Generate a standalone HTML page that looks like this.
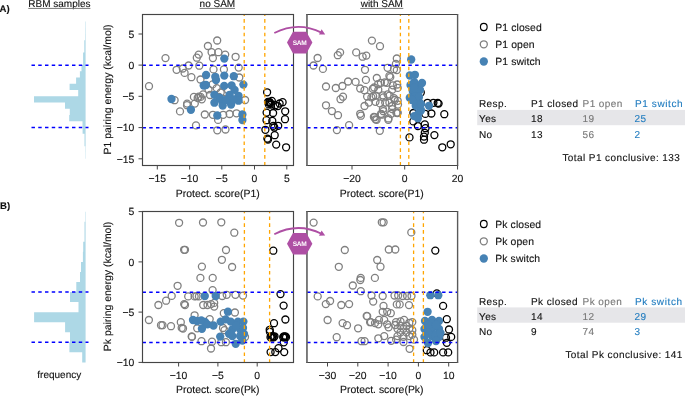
<!DOCTYPE html>
<html><head><meta charset="utf-8"><style>
html,body{margin:0;padding:0;background:#fff;}
body{width:685px;height:406px;overflow:hidden;font-family:"Liberation Sans", sans-serif;}
svg{display:block;will-change:transform;}
svg{color:#111;}
text{text-rendering:geometricPrecision;fill:currentColor;stroke:currentColor;stroke-width:0.12px;}
</style></head><body>
<svg width="685" height="406" viewBox="0 0 685 406" font-family='"Liberation Sans", sans-serif' font-size="10" fill="#111"><text x="-0.5" y="11.6" font-size="9.6" font-weight="700" text-rendering="geometricPrecision">A)</text><text x="0" y="208.6" font-size="9.6" font-weight="700">B)</text><text x="59.4" y="6.8" text-anchor="middle">RBM samples</text><line x1="28.3" y1="8.4" x2="90.4" y2="8.4" stroke="#777" stroke-width="1"/><text x="217.4" y="6.8" text-anchor="middle">no SAM</text><line x1="199.6" y1="8.4" x2="235" y2="8.4" stroke="#777" stroke-width="1"/><text x="381.8" y="6.8" text-anchor="middle">with SAM</text><line x1="360.3" y1="8.4" x2="403.3" y2="8.4" stroke="#777" stroke-width="1"/><text x="59.3" text-anchor="middle" y="377.9">frequency</text><path d="M85.6,21.42 L85.2,21.42 L85.2,27.66 L85.15,27.66 L85.15,33.9 L85.1,33.9 L85.1,40.14 L84.3,40.14 L84.3,46.38 L84.3,46.38 L84.3,52.62 L83.1,52.62 L83.1,58.86 L83.1,58.86 L83.1,65.1 L81.5,65.1 L81.5,71.34 L79.9,71.34 L79.9,77.58 L76.1,77.58 L76.1,83.82 L69.6,83.82 L69.6,90.06 L78.2,90.06 L78.2,96.3 L34,96.3 L34,102.54 L65,102.54 L65,108.78 L69.8,108.78 L69.8,115.02 L69.2,115.02 L69.2,121.26 L82.5,121.26 L82.5,127.5 L82.6,127.5 L82.6,133.74 L84.5,133.74 L84.5,139.98 L84.5,139.98 L84.5,146.22 L85.25,146.22 L85.25,152.46 L85.3,152.46 L85.3,158.7 L85.6,158.7 Z" fill="#add8e6"/><path d="M85.6,211.65 L85.2,211.65 L85.2,221.7 L84.5,221.7 L84.5,231.75 L84.5,231.75 L84.5,241.8 L83.2,241.8 L83.2,251.85 L82.9,251.85 L82.9,261.9 L81.0,261.9 L81.0,271.95 L80.0,271.95 L80.0,282.0 L76.3,282.0 L76.3,292.05 L70,292.05 L70,302.1 L78.5,302.1 L78.5,312.15 L34.1,312.15 L34.1,322.2 L65.1,322.2 L65.1,332.25 L70,332.25 L70,342.3 L69.4,342.3 L69.4,352.35 L82.2,352.35 L82.2,362.4 L85.6,362.4 Z" fill="#add8e6"/><line x1="31.5" y1="65.2" x2="88.5" y2="65.2" stroke="#0000ff" stroke-width="1.5" stroke-dasharray="3.45 3.3" stroke-dashoffset="0"/><line x1="31.5" y1="127.6" x2="88.5" y2="127.6" stroke="#0000ff" stroke-width="1.5" stroke-dasharray="3.45 3.3" stroke-dashoffset="0"/><line x1="31.5" y1="292.1" x2="88.5" y2="292.1" stroke="#0000ff" stroke-width="1.5" stroke-dasharray="3.45 3.3" stroke-dashoffset="0"/><line x1="31.5" y1="342.3" x2="88.5" y2="342.3" stroke="#0000ff" stroke-width="1.5" stroke-dasharray="3.45 3.3" stroke-dashoffset="0"/><g fill="none" stroke="#000" stroke-width="1.3"><circle cx="267.1" cy="92.3" r="3.5"/><circle cx="269.2" cy="101.8" r="3.5"/><circle cx="270.5" cy="103.1" r="3.5"/><circle cx="268.8" cy="104.4" r="3.5"/><circle cx="271.8" cy="100.9" r="3.5"/><circle cx="279.6" cy="103.5" r="3.5"/><circle cx="282.6" cy="102.2" r="3.5"/><circle cx="277.8" cy="106.1" r="3.5"/><circle cx="275.2" cy="105.2" r="3.5"/><circle cx="273.1" cy="113" r="3.5"/><circle cx="266.6" cy="112.6" r="3.5"/><circle cx="285.2" cy="111.3" r="3.5"/><circle cx="285" cy="119.2" r="3.5"/><circle cx="266.5" cy="120.2" r="3.5"/><circle cx="272.3" cy="120.9" r="3.5"/><circle cx="273.3" cy="125.8" r="3.5"/><circle cx="278.2" cy="125.8" r="3.5"/><circle cx="265.4" cy="129.8" r="3.5"/><circle cx="274.7" cy="135.2" r="3.5"/><circle cx="267.4" cy="138.6" r="3.5"/><circle cx="276.2" cy="144.6" r="3.5"/><circle cx="286.1" cy="147.3" r="3.5"/><circle cx="269.5" cy="102.5" r="3.5"/><circle cx="271" cy="104.5" r="3.5"/><circle cx="268" cy="102" r="3.5"/><circle cx="274.3" cy="127.5" r="3.5"/><circle cx="268" cy="139.5" r="3.5"/></g><g fill="none" stroke="#808080" stroke-width="1.3"><circle cx="217.2" cy="40.5" r="3.5"/><circle cx="207.9" cy="46" r="3.5"/><circle cx="211.6" cy="52.2" r="3.5"/><circle cx="218.4" cy="52.2" r="3.5"/><circle cx="212.9" cy="58.1" r="3.5"/><circle cx="225.2" cy="54.6" r="3.5"/><circle cx="235.6" cy="56.8" r="3.5"/><circle cx="198.7" cy="54.6" r="3.5"/><circle cx="196.8" cy="57.7" r="3.5"/><circle cx="199.3" cy="65.7" r="3.5"/><circle cx="213.5" cy="69.4" r="3.5"/><circle cx="223.9" cy="69.4" r="3.5"/><circle cx="238.7" cy="67.6" r="3.5"/><circle cx="200.5" cy="79.5" r="3.5"/><circle cx="239.3" cy="77.5" r="3.5"/><circle cx="165.5" cy="58.1" r="3.5"/><circle cx="176.6" cy="69.8" r="3.5"/><circle cx="182.8" cy="68.5" r="3.5"/><circle cx="184.6" cy="72.9" r="3.5"/><circle cx="188.6" cy="65.5" r="3.5"/><circle cx="191.4" cy="77.2" r="3.5"/><circle cx="193.9" cy="96.9" r="3.5"/><circle cx="200.6" cy="96.9" r="3.5"/><circle cx="203.1" cy="94.4" r="3.5"/><circle cx="174.6" cy="100.2" r="3.5"/><circle cx="187.1" cy="103.6" r="3.5"/><circle cx="149" cy="86.2" r="3.5"/><circle cx="180" cy="111.4" r="3.5"/><circle cx="187" cy="105.2" r="3.5"/><circle cx="194.8" cy="103.6" r="3.5"/><circle cx="198.7" cy="96.6" r="3.5"/><circle cx="201.8" cy="99.3" r="3.5"/><circle cx="196" cy="125.4" r="3.5"/><circle cx="197.7" cy="98" r="3.5"/><circle cx="204.8" cy="114.5" r="3.5"/><circle cx="212.9" cy="114.8" r="3.5"/><circle cx="218.1" cy="119.9" r="3.5"/><circle cx="223.2" cy="114.8" r="3.5"/><circle cx="229.6" cy="114" r="3.5"/><circle cx="236.5" cy="113.3" r="3.5"/><circle cx="217.3" cy="130.3" r="3.5"/><circle cx="225.5" cy="129.5" r="3.5"/><circle cx="245.1" cy="100" r="3.5"/><circle cx="212.6" cy="84.4" r="3.5"/><circle cx="216.7" cy="88.1" r="3.5"/><circle cx="220.7" cy="92.5" r="3.5"/><circle cx="208.5" cy="89.4" r="3.5"/><circle cx="219" cy="97" r="3.5"/><circle cx="210" cy="95" r="3.5"/><circle cx="224" cy="99" r="3.5"/><circle cx="228" cy="90" r="3.5"/></g><g fill="#4682b4"><circle cx="224.3" cy="58.6" r="4.15"/><circle cx="206.1" cy="75" r="4.15"/><circle cx="215.3" cy="76.8" r="4.15"/><circle cx="224.3" cy="75.6" r="4.15"/><circle cx="233.8" cy="76.2" r="4.15"/><circle cx="203.7" cy="85.5" r="4.15"/><circle cx="171.5" cy="99" r="4.15"/><circle cx="190.9" cy="109.8" r="4.15"/><circle cx="243.4" cy="84.6" r="4.15"/><circle cx="224.2" cy="85.9" r="4.15"/><circle cx="231.6" cy="85.4" r="4.15"/><circle cx="234.6" cy="89.9" r="4.15"/><circle cx="214.4" cy="94.8" r="4.15"/><circle cx="229.6" cy="94.8" r="4.15"/><circle cx="238.5" cy="95.8" r="4.15"/><circle cx="214.4" cy="102.7" r="4.15"/><circle cx="222.2" cy="101.2" r="4.15"/><circle cx="222.7" cy="105.6" r="4.15"/><circle cx="231.1" cy="104.6" r="4.15"/><circle cx="238.5" cy="100.7" r="4.15"/><circle cx="217.3" cy="115.5" r="4.15"/><circle cx="242.4" cy="114.5" r="4.15"/><circle cx="220" cy="98" r="4.15"/><circle cx="226" cy="100" r="4.15"/><circle cx="233.5" cy="99.5" r="4.15"/><circle cx="242.4" cy="120" r="4.15"/><circle cx="216" cy="80" r="4.15"/><circle cx="206" cy="85" r="4.15"/></g><line x1="142.5" y1="65.3" x2="293.0" y2="65.3" stroke="#0000ff" stroke-width="1.5" stroke-dasharray="3.45 3.3" stroke-dashoffset="0"/><line x1="142.5" y1="127.8" x2="293.0" y2="127.8" stroke="#0000ff" stroke-width="1.5" stroke-dasharray="3.45 3.3" stroke-dashoffset="0"/><line x1="244.2" y1="14.5" x2="244.2" y2="165.0" stroke="#ffa500" stroke-width="1.3" stroke-dasharray="3.6 3.2" stroke-dashoffset="2.2"/><line x1="264.8" y1="14.5" x2="264.8" y2="165.0" stroke="#ffa500" stroke-width="1.3" stroke-dasharray="3.6 3.2" stroke-dashoffset="2.2"/><rect x="142.5" y="14.5" width="151.0" height="151.0" fill="none" stroke="#454545" stroke-width="1.15"/><g fill="none" stroke="#000" stroke-width="1.3"><circle cx="420.8" cy="92.5" r="3.5"/><circle cx="427.5" cy="102.8" r="3.5"/><circle cx="433.4" cy="102.8" r="3.5"/><circle cx="438.6" cy="103.6" r="3.5"/><circle cx="431.4" cy="113.5" r="3.5"/><circle cx="444.3" cy="114.2" r="3.5"/><circle cx="413.4" cy="113" r="3.5"/><circle cx="425.3" cy="113.9" r="3.5"/><circle cx="413.3" cy="121.4" r="3.5"/><circle cx="417.9" cy="126" r="3.5"/><circle cx="424.8" cy="124.4" r="3.5"/><circle cx="425.5" cy="128.2" r="3.5"/><circle cx="424.8" cy="132.8" r="3.5"/><circle cx="424" cy="136.6" r="3.5"/><circle cx="424" cy="139.7" r="3.5"/><circle cx="434.4" cy="135.1" r="3.5"/><circle cx="442.3" cy="147.3" r="3.5"/><circle cx="450.7" cy="144.3" r="3.5"/><circle cx="409.5" cy="137.4" r="3.5"/><circle cx="437.7" cy="103" r="3.5"/></g><g fill="none" stroke="#808080" stroke-width="1.3"><circle cx="317.6" cy="58" r="3.5"/><circle cx="313.5" cy="65.5" r="3.5"/><circle cx="322.9" cy="68.9" r="3.5"/><circle cx="337.8" cy="55.2" r="3.5"/><circle cx="340.1" cy="52.4" r="3.5"/><circle cx="356.2" cy="52.4" r="3.5"/><circle cx="362.6" cy="56.7" r="3.5"/><circle cx="366.3" cy="55.6" r="3.5"/><circle cx="371.9" cy="40.6" r="3.5"/><circle cx="380" cy="46.2" r="3.5"/><circle cx="365" cy="69.8" r="3.5"/><circle cx="365.9" cy="79.9" r="3.5"/><circle cx="376.8" cy="78" r="3.5"/><circle cx="326" cy="86.5" r="3.5"/><circle cx="335.8" cy="88" r="3.5"/><circle cx="342.4" cy="86" r="3.5"/><circle cx="348.1" cy="81.5" r="3.5"/><circle cx="355.6" cy="81.9" r="3.5"/><circle cx="360.2" cy="88.5" r="3.5"/><circle cx="364.5" cy="90.2" r="3.5"/><circle cx="374.2" cy="87.5" r="3.5"/><circle cx="378.1" cy="84.2" r="3.5"/><circle cx="380.9" cy="82.8" r="3.5"/><circle cx="386.9" cy="82.8" r="3.5"/><circle cx="392.9" cy="85.3" r="3.5"/><circle cx="397.2" cy="84.5" r="3.5"/><circle cx="390.3" cy="77.1" r="3.5"/><circle cx="396.8" cy="58.5" r="3.5"/><circle cx="395.9" cy="63.9" r="3.5"/><circle cx="387.6" cy="67.8" r="3.5"/><circle cx="394" cy="69.2" r="3.5"/><circle cx="396.8" cy="70.1" r="3.5"/><circle cx="389.4" cy="75.9" r="3.5"/><circle cx="384.8" cy="82.3" r="3.5"/><circle cx="372.8" cy="88.8" r="3.5"/><circle cx="378.3" cy="89.7" r="3.5"/><circle cx="392.2" cy="89.7" r="3.5"/><circle cx="397.7" cy="87.9" r="3.5"/><circle cx="340.5" cy="99.2" r="3.5"/><circle cx="343" cy="96.7" r="3.5"/><circle cx="326" cy="105.3" r="3.5"/><circle cx="331.9" cy="111.1" r="3.5"/><circle cx="338" cy="115.2" r="3.5"/><circle cx="349.1" cy="125.2" r="3.5"/><circle cx="336.9" cy="130.1" r="3.5"/><circle cx="379.8" cy="130.8" r="3.5"/><circle cx="376.6" cy="119.8" r="3.5"/><circle cx="388.3" cy="119.8" r="3.5"/><circle cx="360.9" cy="115.7" r="3.5"/><circle cx="373.9" cy="117" r="3.5"/><circle cx="360.2" cy="113.8" r="3.5"/><circle cx="367.1" cy="96.6" r="3.5"/><circle cx="371.4" cy="97.4" r="3.5"/><circle cx="375.7" cy="95.7" r="3.5"/><circle cx="368.8" cy="102.6" r="3.5"/><circle cx="364.5" cy="106" r="3.5"/><circle cx="383.4" cy="97.4" r="3.5"/><circle cx="389.5" cy="95.7" r="3.5"/><circle cx="394.7" cy="100" r="3.5"/><circle cx="380" cy="103.4" r="3.5"/><circle cx="385.2" cy="102.6" r="3.5"/><circle cx="392.1" cy="106" r="3.5"/><circle cx="374.8" cy="117.2" r="3.5"/><circle cx="381.7" cy="114.7" r="3.5"/><circle cx="383.4" cy="111.2" r="3.5"/><circle cx="391.2" cy="113.8" r="3.5"/><circle cx="396.4" cy="112.9" r="3.5"/><circle cx="382.9" cy="95.3" r="3.5"/><circle cx="387.6" cy="94.4" r="3.5"/><circle cx="394" cy="98.1" r="3.5"/><circle cx="397.7" cy="100.8" r="3.5"/><circle cx="375.5" cy="101.8" r="3.5"/><circle cx="389.4" cy="102.7" r="3.5"/><circle cx="382.9" cy="109.1" r="3.5"/><circle cx="392.2" cy="109.1" r="3.5"/><circle cx="397.7" cy="112.8" r="3.5"/><circle cx="381.1" cy="113.8" r="3.5"/><circle cx="388.5" cy="118.4" r="3.5"/><circle cx="375.5" cy="119.3" r="3.5"/><circle cx="373.2" cy="96.4" r="3.5"/><circle cx="397.3" cy="113" r="3.5"/><circle cx="398" cy="104.6" r="3.5"/></g><g fill="#4682b4"><circle cx="411.2" cy="59.5" r="4.15"/><circle cx="409.8" cy="75.5" r="4.15"/><circle cx="414.9" cy="74.8" r="4.15"/><circle cx="410.5" cy="85.1" r="4.15"/><circle cx="418.6" cy="85.8" r="4.15"/><circle cx="414.2" cy="82.2" r="4.15"/><circle cx="412.7" cy="91" r="4.15"/><circle cx="409.8" cy="97.7" r="4.15"/><circle cx="415.7" cy="95.5" r="4.15"/><circle cx="418.6" cy="101.4" r="4.15"/><circle cx="429" cy="105.8" r="4.15"/><circle cx="415.7" cy="105.8" r="4.15"/><circle cx="418.6" cy="113.2" r="4.15"/><circle cx="414.2" cy="116.1" r="4.15"/><circle cx="417.9" cy="118.3" r="4.15"/><circle cx="421" cy="110.2" r="4.15"/><circle cx="416" cy="94.3" r="4.15"/><circle cx="420" cy="90" r="4.15"/><circle cx="419" cy="97" r="4.15"/><circle cx="412" cy="100" r="4.15"/><circle cx="421" cy="104" r="4.15"/><circle cx="422" cy="83" r="4.15"/><circle cx="414" cy="88" r="4.15"/></g><line x1="307.1" y1="65.3" x2="457.0" y2="65.3" stroke="#0000ff" stroke-width="1.5" stroke-dasharray="3.45 3.3" stroke-dashoffset="0"/><line x1="307.1" y1="127.8" x2="457.0" y2="127.8" stroke="#0000ff" stroke-width="1.5" stroke-dasharray="3.45 3.3" stroke-dashoffset="0"/><line x1="400.4" y1="14.5" x2="400.4" y2="165.0" stroke="#ffa500" stroke-width="1.3" stroke-dasharray="3.6 3.2" stroke-dashoffset="2.2"/><line x1="408.8" y1="14.5" x2="408.8" y2="165.0" stroke="#ffa500" stroke-width="1.3" stroke-dasharray="3.6 3.2" stroke-dashoffset="2.2"/><line x1="306.25" y1="14.5" x2="458.1" y2="14.5" stroke="#454545" stroke-width="1.15"/><line x1="306.25" y1="165.5" x2="458.1" y2="165.5" stroke="#454545" stroke-width="1.15"/><line x1="306.95" y1="14.0" x2="306.95" y2="166.0" stroke="#5e5e5e" stroke-width="1.6"/><line x1="457.6" y1="14.0" x2="457.6" y2="166.0" stroke="#5a5a5a" stroke-width="1.4"/><g fill="none" stroke="#000" stroke-width="1.3"><circle cx="273.3" cy="250.7" r="3.5"/><circle cx="280.5" cy="294.1" r="3.5"/><circle cx="283.6" cy="305.6" r="3.5"/><circle cx="285.4" cy="319.5" r="3.5"/><circle cx="274" cy="323.2" r="3.5"/><circle cx="269.7" cy="329.8" r="3.5"/><circle cx="269.9" cy="331.8" r="3.5"/><circle cx="283.8" cy="342.3" r="3.5"/><circle cx="278.5" cy="348.2" r="3.5"/><circle cx="270.6" cy="352.1" r="3.5"/><circle cx="275.3" cy="352.1" r="3.5"/><circle cx="284.2" cy="352.1" r="3.5"/><circle cx="270.5" cy="337.3" r="3.5"/><circle cx="271.3" cy="336.3" r="3.5"/><circle cx="272.1" cy="337.3" r="3.5"/><circle cx="272.9" cy="336.3" r="3.5"/><circle cx="273.7" cy="337.3" r="3.5"/><circle cx="274.5" cy="336.3" r="3.5"/><circle cx="283.2" cy="337.3" r="3.5"/><circle cx="283.9" cy="336.3" r="3.5"/><circle cx="284.6" cy="337.3" r="3.5"/><circle cx="285.3" cy="336.3" r="3.5"/><circle cx="286.0" cy="337.3" r="3.5"/></g><g fill="none" stroke="#808080" stroke-width="1.3"><circle cx="179.1" cy="222.8" r="3.5"/><circle cx="203" cy="222.5" r="3.5"/><circle cx="221.3" cy="222.3" r="3.5"/><circle cx="234.3" cy="232.7" r="3.5"/><circle cx="184.1" cy="249.8" r="3.5"/><circle cx="185" cy="249.8" r="3.5"/><circle cx="226" cy="250" r="3.5"/><circle cx="221.9" cy="259.8" r="3.5"/><circle cx="232.1" cy="267" r="3.5"/><circle cx="201.9" cy="266.6" r="3.5"/><circle cx="200.4" cy="277.9" r="3.5"/><circle cx="212.7" cy="277.9" r="3.5"/><circle cx="177.6" cy="285.8" r="3.5"/><circle cx="212.6" cy="290.2" r="3.5"/><circle cx="226.7" cy="294.8" r="3.5"/><circle cx="235.4" cy="294.8" r="3.5"/><circle cx="243" cy="295.6" r="3.5"/><circle cx="222.3" cy="296" r="3.5"/><circle cx="196.5" cy="296.2" r="3.5"/><circle cx="158.4" cy="305" r="3.5"/><circle cx="166.1" cy="300.7" r="3.5"/><circle cx="171.7" cy="295.9" r="3.5"/><circle cx="184.2" cy="304.1" r="3.5"/><circle cx="185" cy="305" r="3.5"/><circle cx="188.2" cy="296.4" r="3.5"/><circle cx="194.6" cy="296.4" r="3.5"/><circle cx="198.9" cy="296.4" r="3.5"/><circle cx="203.2" cy="305" r="3.5"/><circle cx="207.5" cy="305" r="3.5"/><circle cx="211" cy="304.1" r="3.5"/><circle cx="214.2" cy="302.9" r="3.5"/><circle cx="214.2" cy="306.6" r="3.5"/><circle cx="223.8" cy="313.2" r="3.5"/><circle cx="234.9" cy="312.5" r="3.5"/><circle cx="148.9" cy="320" r="3.5"/><circle cx="161" cy="325.2" r="3.5"/><circle cx="162.5" cy="325.2" r="3.5"/><circle cx="171" cy="326.2" r="3.5"/><circle cx="180.8" cy="322.2" r="3.5"/><circle cx="181.7" cy="327.9" r="3.5"/><circle cx="183" cy="328.5" r="3.5"/><circle cx="194.6" cy="315.3" r="3.5"/><circle cx="197.2" cy="328.3" r="3.5"/><circle cx="192" cy="336.9" r="3.5"/><circle cx="201.5" cy="341.2" r="3.5"/><circle cx="211" cy="348.5" r="3.5"/><circle cx="209.7" cy="319.1" r="3.5"/><circle cx="223" cy="328" r="3.5"/><circle cx="224.5" cy="330.2" r="3.5"/><circle cx="245" cy="337" r="3.5"/><circle cx="191.7" cy="336.4" r="3.5"/><circle cx="212" cy="341.7" r="3.5"/><circle cx="221.3" cy="342.2" r="3.5"/><circle cx="225.9" cy="342.2" r="3.5"/></g><g fill="#4682b4"><circle cx="204.8" cy="296" r="4.15"/><circle cx="215.7" cy="296" r="4.15"/><circle cx="227.9" cy="311.7" r="4.15"/><circle cx="193" cy="320" r="4.15"/><circle cx="197" cy="321" r="4.15"/><circle cx="205" cy="322" r="4.15"/><circle cx="201.3" cy="320.5" r="4.15"/><circle cx="201.9" cy="328.8" r="4.15"/><circle cx="207.4" cy="324.4" r="4.15"/><circle cx="213.5" cy="325.5" r="4.15"/><circle cx="220.7" cy="321.6" r="4.15"/><circle cx="225.7" cy="319.4" r="4.15"/><circle cx="230.7" cy="321.6" r="4.15"/><circle cx="237.9" cy="321.6" r="4.15"/><circle cx="243.4" cy="321.6" r="4.15"/><circle cx="232.3" cy="329.4" r="4.15"/><circle cx="240.1" cy="329.4" r="4.15"/><circle cx="243" cy="328" r="4.15"/><circle cx="232.3" cy="336" r="4.15"/><circle cx="240.1" cy="336" r="4.15"/><circle cx="220.2" cy="336.6" r="4.15"/><circle cx="229" cy="333.8" r="4.15"/><circle cx="235.7" cy="343.8" r="4.15"/><circle cx="242.3" cy="340.5" r="4.15"/><circle cx="236" cy="326" r="4.15"/><circle cx="244" cy="334" r="4.15"/></g><line x1="142.5" y1="292.2" x2="293.0" y2="292.2" stroke="#0000ff" stroke-width="1.5" stroke-dasharray="3.45 3.3" stroke-dashoffset="0"/><line x1="142.5" y1="342.5" x2="293.0" y2="342.5" stroke="#0000ff" stroke-width="1.5" stroke-dasharray="3.45 3.3" stroke-dashoffset="0"/><line x1="244.4" y1="211.5" x2="244.4" y2="362.0" stroke="#ffa500" stroke-width="1.3" stroke-dasharray="3.6 3.2" stroke-dashoffset="1.8"/><line x1="269.6" y1="211.5" x2="269.6" y2="362.0" stroke="#ffa500" stroke-width="1.3" stroke-dasharray="3.6 3.2" stroke-dashoffset="1.8"/><rect x="142.5" y="211.5" width="151.0" height="151.0" fill="none" stroke="#454545" stroke-width="1.15"/><g fill="none" stroke="#000" stroke-width="1.3"><circle cx="435.3" cy="250.6" r="3.5"/><circle cx="436.8" cy="293.4" r="3.5"/><circle cx="443.1" cy="305.9" r="3.5"/><circle cx="446.8" cy="319.2" r="3.5"/><circle cx="449" cy="329.5" r="3.5"/><circle cx="451.2" cy="336.9" r="3.5"/><circle cx="446" cy="337.7" r="3.5"/><circle cx="446.8" cy="342.8" r="3.5"/><circle cx="426.8" cy="350.2" r="3.5"/><circle cx="430.5" cy="352.4" r="3.5"/><circle cx="434.2" cy="352.4" r="3.5"/><circle cx="443.1" cy="352.4" r="3.5"/><circle cx="448.2" cy="352.4" r="3.5"/></g><g fill="none" stroke="#808080" stroke-width="1.3"><circle cx="313.6" cy="222.6" r="3.5"/><circle cx="381.8" cy="222.3" r="3.5"/><circle cx="383.6" cy="222.3" r="3.5"/><circle cx="344.8" cy="250" r="3.5"/><circle cx="338.8" cy="266.8" r="3.5"/><circle cx="377.2" cy="260" r="3.5"/><circle cx="380.5" cy="266.7" r="3.5"/><circle cx="360.7" cy="277.9" r="3.5"/><circle cx="374.9" cy="277.9" r="3.5"/><circle cx="352.8" cy="285.5" r="3.5"/><circle cx="411.3" cy="232.4" r="3.5"/><circle cx="388.8" cy="249.5" r="3.5"/><circle cx="395.3" cy="249.5" r="3.5"/><circle cx="360.3" cy="280" r="3.5"/><circle cx="360.8" cy="291.2" r="3.5"/><circle cx="317.7" cy="296.4" r="3.5"/><circle cx="325.8" cy="304.1" r="3.5"/><circle cx="330.1" cy="301" r="3.5"/><circle cx="341.3" cy="305" r="3.5"/><circle cx="349.1" cy="304.1" r="3.5"/><circle cx="371.5" cy="295.5" r="3.5"/><circle cx="373.2" cy="301.6" r="3.5"/><circle cx="327.6" cy="320" r="3.5"/><circle cx="342.6" cy="323.1" r="3.5"/><circle cx="347" cy="325.2" r="3.5"/><circle cx="358.1" cy="328.3" r="3.5"/><circle cx="366.7" cy="315.9" r="3.5"/><circle cx="370.1" cy="322.2" r="3.5"/><circle cx="336.7" cy="337.2" r="3.5"/><circle cx="361.5" cy="341.2" r="3.5"/><circle cx="364.6" cy="341.2" r="3.5"/><circle cx="375" cy="323.1" r="3.5"/><circle cx="382.7" cy="296" r="3.5"/><circle cx="394.5" cy="295.5" r="3.5"/><circle cx="398.2" cy="295.5" r="3.5"/><circle cx="402.7" cy="296" r="3.5"/><circle cx="407.1" cy="296" r="3.5"/><circle cx="411.5" cy="296" r="3.5"/><circle cx="396.8" cy="304.4" r="3.5"/><circle cx="399.7" cy="304.4" r="3.5"/><circle cx="409" cy="305.1" r="3.5"/><circle cx="383.5" cy="305.9" r="3.5"/><circle cx="382.7" cy="311.8" r="3.5"/><circle cx="387.2" cy="311.8" r="3.5"/><circle cx="390.8" cy="313.2" r="3.5"/><circle cx="367.2" cy="316.2" r="3.5"/><circle cx="370.9" cy="322.1" r="3.5"/><circle cx="379" cy="319.9" r="3.5"/><circle cx="378.3" cy="324.3" r="3.5"/><circle cx="384.2" cy="319.9" r="3.5"/><circle cx="387.2" cy="324.3" r="3.5"/><circle cx="388.6" cy="327.3" r="3.5"/><circle cx="396" cy="322.1" r="3.5"/><circle cx="400.5" cy="321.4" r="3.5"/><circle cx="404.1" cy="319.9" r="3.5"/><circle cx="409.3" cy="322.8" r="3.5"/><circle cx="412.3" cy="322.1" r="3.5"/><circle cx="397.5" cy="328.7" r="3.5"/><circle cx="403.4" cy="328.7" r="3.5"/><circle cx="409.3" cy="328.7" r="3.5"/><circle cx="397.5" cy="336.1" r="3.5"/><circle cx="403.4" cy="336.9" r="3.5"/><circle cx="409.3" cy="336.1" r="3.5"/><circle cx="384.2" cy="336.1" r="3.5"/><circle cx="378.3" cy="338.3" r="3.5"/><circle cx="400.5" cy="325.8" r="3.5"/><circle cx="406.4" cy="325.8" r="3.5"/><circle cx="400.5" cy="332.4" r="3.5"/><circle cx="406.4" cy="332.4" r="3.5"/><circle cx="395.3" cy="325" r="3.5"/><circle cx="412.3" cy="330.2" r="3.5"/><circle cx="412.3" cy="334.7" r="3.5"/><circle cx="409.6" cy="348.8" r="3.5"/><circle cx="391.2" cy="340.8" r="3.5"/><circle cx="396.1" cy="339.6" r="3.5"/><circle cx="403.5" cy="342" r="3.5"/><circle cx="414" cy="339.6" r="3.5"/></g><g fill="#4682b4"><circle cx="430.3" cy="295.2" r="4.15"/><circle cx="438.3" cy="295.2" r="4.15"/><circle cx="427.6" cy="311.8" r="4.15"/><circle cx="425" cy="321" r="4.15"/><circle cx="432" cy="320" r="4.15"/><circle cx="439" cy="321" r="4.15"/><circle cx="424.5" cy="329" r="4.15"/><circle cx="432" cy="329" r="4.15"/><circle cx="439" cy="329" r="4.15"/><circle cx="424.5" cy="337" r="4.15"/><circle cx="432" cy="336" r="4.15"/><circle cx="439" cy="337" r="4.15"/><circle cx="428" cy="343" r="4.15"/><circle cx="435" cy="335" r="4.15"/><circle cx="428" cy="325" r="4.15"/><circle cx="436" cy="325" r="4.15"/><circle cx="428" cy="333" r="4.15"/><circle cx="436" cy="341" r="4.15"/><circle cx="440.5" cy="333" r="4.15"/></g><line x1="307.1" y1="292.2" x2="457.0" y2="292.2" stroke="#0000ff" stroke-width="1.5" stroke-dasharray="3.45 3.3" stroke-dashoffset="0"/><line x1="307.1" y1="342.5" x2="457.0" y2="342.5" stroke="#0000ff" stroke-width="1.5" stroke-dasharray="3.45 3.3" stroke-dashoffset="0"/><line x1="413.6" y1="211.5" x2="413.6" y2="362.0" stroke="#ffa500" stroke-width="1.3" stroke-dasharray="3.6 3.2" stroke-dashoffset="1.8"/><line x1="423.4" y1="211.5" x2="423.4" y2="362.0" stroke="#ffa500" stroke-width="1.3" stroke-dasharray="3.6 3.2" stroke-dashoffset="1.8"/><line x1="306.25" y1="211.5" x2="458.1" y2="211.5" stroke="#454545" stroke-width="1.15"/><line x1="306.25" y1="362.5" x2="458.1" y2="362.5" stroke="#454545" stroke-width="1.15"/><line x1="306.95" y1="211.0" x2="306.95" y2="363.0" stroke="#5e5e5e" stroke-width="1.6"/><line x1="457.6" y1="211.0" x2="457.6" y2="363.0" stroke="#5a5a5a" stroke-width="1.4"/><line x1="157.3" y1="165.5" x2="157.3" y2="169.5" stroke="#454545" stroke-width="1"/><text x="157.3" y="182.2" text-anchor="middle" font-size="10.4">−15</text><line x1="189.6" y1="165.5" x2="189.6" y2="169.5" stroke="#454545" stroke-width="1"/><text x="189.6" y="182.2" text-anchor="middle" font-size="10.4">−10</text><line x1="221.8" y1="165.5" x2="221.8" y2="169.5" stroke="#454545" stroke-width="1"/><text x="221.8" y="182.2" text-anchor="middle" font-size="10.4">−5</text><line x1="254.5" y1="165.5" x2="254.5" y2="169.5" stroke="#454545" stroke-width="1"/><text x="254.5" y="182.2" text-anchor="middle" font-size="10.4">0</text><line x1="286.8" y1="165.5" x2="286.8" y2="169.5" stroke="#454545" stroke-width="1"/><text x="286.8" y="182.2" text-anchor="middle" font-size="10.4">5</text><line x1="352" y1="165.5" x2="352" y2="169.5" stroke="#454545" stroke-width="1"/><text x="352" y="182.2" text-anchor="middle" font-size="10.4">−20</text><line x1="404.7" y1="165.5" x2="404.7" y2="169.5" stroke="#454545" stroke-width="1"/><text x="404.7" y="182.2" text-anchor="middle" font-size="10.4">0</text><line x1="457.55" y1="165.5" x2="457.55" y2="169.5" stroke="#454545" stroke-width="1"/><text x="457.55" y="182.2" text-anchor="middle" font-size="10.4">20</text><line x1="178.6" y1="362.5" x2="178.6" y2="366.5" stroke="#454545" stroke-width="1"/><text x="178.6" y="378.6" text-anchor="middle" font-size="10.4">−10</text><line x1="217.9" y1="362.5" x2="217.9" y2="366.5" stroke="#454545" stroke-width="1"/><text x="217.9" y="378.6" text-anchor="middle" font-size="10.4">−5</text><line x1="257.2" y1="362.5" x2="257.2" y2="366.5" stroke="#454545" stroke-width="1"/><text x="257.2" y="378.6" text-anchor="middle" font-size="10.4">0</text><line x1="327.5" y1="362.5" x2="327.5" y2="366.5" stroke="#454545" stroke-width="1"/><text x="327.5" y="378.6" text-anchor="middle" font-size="10.4">−30</text><line x1="357.8" y1="362.5" x2="357.8" y2="366.5" stroke="#454545" stroke-width="1"/><text x="357.8" y="378.6" text-anchor="middle" font-size="10.4">−20</text><line x1="388.1" y1="362.5" x2="388.1" y2="366.5" stroke="#454545" stroke-width="1"/><text x="388.1" y="378.6" text-anchor="middle" font-size="10.4">−10</text><line x1="418.4" y1="362.5" x2="418.4" y2="366.5" stroke="#454545" stroke-width="1"/><text x="418.4" y="378.6" text-anchor="middle" font-size="10.4">0</text><line x1="448.7" y1="362.5" x2="448.7" y2="366.5" stroke="#454545" stroke-width="1"/><text x="448.7" y="378.6" text-anchor="middle" font-size="10.4">10</text><line x1="138.5" y1="34" x2="142.5" y2="34" stroke="#454545" stroke-width="1"/><text x="134.4" y="37.8" text-anchor="end" font-size="10.4">5</text><line x1="138.5" y1="65.1" x2="142.5" y2="65.1" stroke="#454545" stroke-width="1"/><text x="134.4" y="68.9" text-anchor="end" font-size="10.4">0</text><line x1="138.5" y1="96.3" x2="142.5" y2="96.3" stroke="#454545" stroke-width="1"/><text x="134.4" y="100.1" text-anchor="end" font-size="10.4">−5</text><line x1="138.5" y1="127.6" x2="142.5" y2="127.6" stroke="#454545" stroke-width="1"/><text x="134.4" y="131.4" text-anchor="end" font-size="10.4">−10</text><line x1="138.5" y1="158.8" x2="142.5" y2="158.8" stroke="#454545" stroke-width="1"/><text x="134.4" y="162.6" text-anchor="end" font-size="10.4">−15</text><line x1="138.5" y1="211.6" x2="142.5" y2="211.6" stroke="#454545" stroke-width="1"/><text x="134.4" y="215.4" text-anchor="end" font-size="10.4">5</text><line x1="138.5" y1="261.9" x2="142.5" y2="261.9" stroke="#454545" stroke-width="1"/><text x="134.4" y="265.7" text-anchor="end" font-size="10.4">0</text><line x1="138.5" y1="312.1" x2="142.5" y2="312.1" stroke="#454545" stroke-width="1"/><text x="134.4" y="315.9" text-anchor="end" font-size="10.4">−5</text><line x1="138.5" y1="362.4" x2="142.5" y2="362.4" stroke="#454545" stroke-width="1"/><text x="134.4" y="366.2" text-anchor="end" font-size="10.4">−10</text><text x="217.8" y="196.6" text-anchor="middle" font-size="10.45">Protect. score(P1)</text><text x="381.8" y="196.6" text-anchor="middle" font-size="10.45">Protect. score(P1)</text><text x="217.8" y="392.8" text-anchor="middle" font-size="10.45">Protect. score(Pk)</text><text x="381.8" y="392.8" text-anchor="middle" font-size="10.45">Protect. score(Pk)</text><text transform="translate(110.8,89.5) rotate(-90)" text-anchor="middle" font-size="10.45">P1 pairing energy (kcal/mol)</text><text transform="translate(110.8,286.5) rotate(-90)" text-anchor="middle" font-size="10.45">Pk pairing energy (kcal/mol)</text><path d="M274.3,33.0 Q298,20.8 321.5,32.6" fill="none" stroke="#ae4fa4" stroke-width="1.8"/><polygon points="325.2,34.4 321.6,29.2 319,34.6" fill="#ae4fa4"/><polygon points="287,42.6 293,31.8 306.3,31.8 312.4,42.6 306.3,53.4 293,53.4" fill="#ae4fa4"/><text x="299.6" y="45.1" text-anchor="middle" font-size="6.6" font-weight="700" color="#fff" letter-spacing="-0.3" style="stroke-width:0">SAM</text><path d="M274.3,234.2 Q298,222.0 321.5,233.8" fill="none" stroke="#ae4fa4" stroke-width="1.8"/><polygon points="325.2,235.6 321.6,230.4 319,235.8" fill="#ae4fa4"/><polygon points="287,243.8 293,233.0 306.3,233.0 312.4,243.8 306.3,254.6 293,254.6" fill="#ae4fa4"/><text x="299.6" y="246.3" text-anchor="middle" font-size="6.6" font-weight="700" color="#fff" letter-spacing="-0.3" style="stroke-width:0">SAM</text><ellipse cx="483.8" cy="27" rx="3.35" ry="3.6" fill="none" stroke="#000" stroke-width="1.15"/><circle cx="483.8" cy="44.3" r="3.5" fill="none" stroke="#808080" stroke-width="1.3"/><circle cx="483.8" cy="61.5" r="4.15" fill="#4682b4"/><text x="495.3" y="30.5" font-size="10.4" color="#111" letter-spacing="0.1">P1 closed</text><text x="495.3" y="47.8" font-size="10.4" color="#111" letter-spacing="0.1">P1 open</text><text x="495.3" y="65.0" font-size="10.4" color="#111" letter-spacing="0.1">P1 switch</text><ellipse cx="483.8" cy="224" rx="3.35" ry="3.6" fill="none" stroke="#000" stroke-width="1.15"/><circle cx="483.8" cy="241.3" r="3.5" fill="none" stroke="#808080" stroke-width="1.3"/><circle cx="483.8" cy="258.5" r="4.15" fill="#4682b4"/><text x="495.3" y="227.5" font-size="10.4" color="#111" letter-spacing="0.1">Pk closed</text><text x="495.3" y="244.8" font-size="10.4" color="#111" letter-spacing="0.1">Pk open</text><text x="495.3" y="262.0" font-size="10.4" color="#111" letter-spacing="0.1">Pk switch</text><rect x="477.2" y="109.9" width="208" height="15.3" fill="#e6e6e9"/><text x="479" y="107" color="#111" letter-spacing="0.4">Resp.</text><text x="531" y="107" color="#111" letter-spacing="0.4">P1 closed</text><text x="582.6" y="107" color="#777" letter-spacing="0.4">P1 open</text><text x="634.9" y="107" color="#1f7bbf" letter-spacing="0.62">P1 switch</text><text x="479" y="122.1" color="#111" letter-spacing="0.4">Yes</text><text x="531" y="122.1" color="#111" letter-spacing="0.4">18</text><text x="582.6" y="122.1" color="#777" letter-spacing="0.4">19</text><text x="634.5" y="122.1" color="#1f7bbf" letter-spacing="0.4">25</text><text x="479" y="137.5" color="#111" letter-spacing="0.4">No</text><text x="531" y="137.5" color="#111" letter-spacing="0.4">13</text><text x="582.6" y="137.5" color="#777" letter-spacing="0.4">56</text><text x="634.5" y="137.5" color="#1f7bbf" letter-spacing="0.4">2</text><text x="562.4" y="160.7" color="#111" letter-spacing="0.42">Total P1 conclusive: 133</text><rect x="477.2" y="307.4" width="208" height="15.3" fill="#e6e6e9"/><text x="479" y="304.5" color="#111" letter-spacing="0.4">Resp.</text><text x="531" y="304.5" color="#111" letter-spacing="0.4">Pk closed</text><text x="582.6" y="304.5" color="#777" letter-spacing="0.4">Pk open</text><text x="634.9" y="304.5" color="#1f7bbf" letter-spacing="0.62">Pk switch</text><text x="479" y="319.6" color="#111" letter-spacing="0.4">Yes</text><text x="531" y="319.6" color="#111" letter-spacing="0.4">14</text><text x="582.6" y="319.6" color="#777" letter-spacing="0.4">12</text><text x="634.5" y="319.6" color="#1f7bbf" letter-spacing="0.4">29</text><text x="479" y="335.0" color="#111" letter-spacing="0.4">No</text><text x="531" y="335.0" color="#111" letter-spacing="0.4">9</text><text x="582.6" y="335.0" color="#777" letter-spacing="0.4">74</text><text x="634.5" y="335.0" color="#1f7bbf" letter-spacing="0.4">3</text><text x="565.4" y="358.2" color="#111" letter-spacing="0.42">Total Pk conclusive: 141</text></svg>
</body></html>
